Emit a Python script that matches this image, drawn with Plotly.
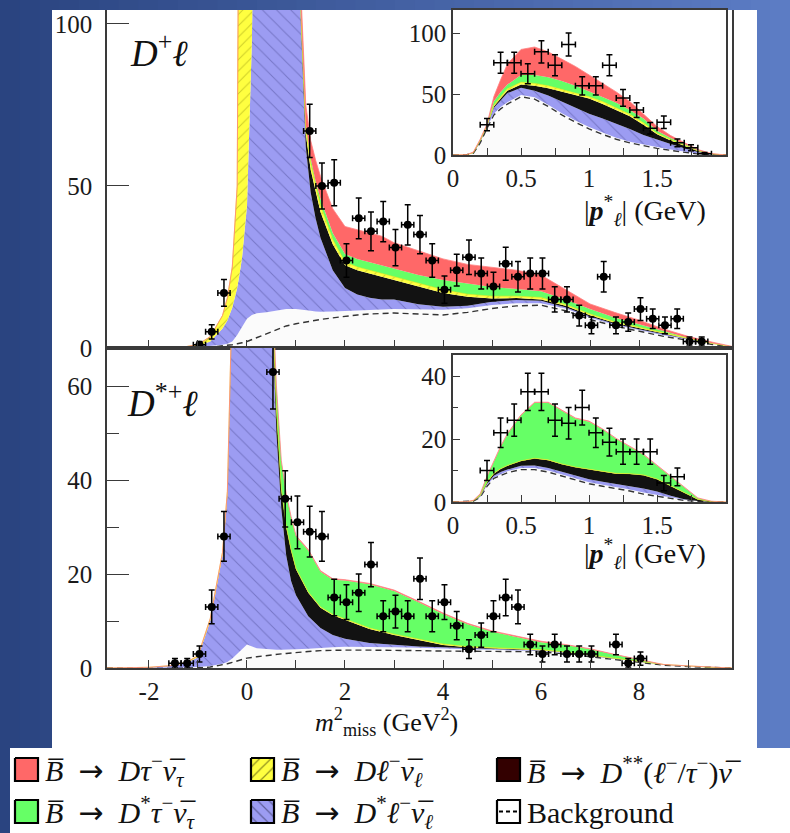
import plotly.graph_objects as go

W_PX, H_PX = 790, 833
def px(x): return x / W_PX
def py(y): return 1 - y / H_PX

# ---------------- main panel, D+ l  (cumulative boundaries) ----------------
top_x = [-2.857, -2.5, -2.0, -1.5, -1.25, -1.0, -0.75, -0.5, -0.4, -0.3, -0.2, -0.15, -0.1, 0.0, 0.1,
         0.2, 0.4, 0.6, 0.8, 1.0, 1.1, 1.2, 1.3, 1.4, 1.5, 1.75, 2.0, 2.25, 2.5, 2.75, 3.0, 3.5,
         4.0, 4.5, 5.0, 5.5, 6.0, 6.5, 7.0, 7.5, 8.0, 8.5, 9.0, 9.5, 9.898]
top_bkg_dash = [0, 0, 0, 0, 0, 0.1, 0.3, 0.6, 0.8, 1.0, 1.3, 1.4, 1.6, 2.0, 2.6,
                3.2, 4.4, 5.7, 6.8, 7.5, 7.8, 8.0, 8.3, 8.6, 8.8, 9.3, 9.8, 10.2, 10.5, 10.7, 10.8, 10.5,
                10.2, 11.0, 12.2, 13.0, 13.2, 11.5, 8.8, 6.8, 5.1, 3.6, 2.4, 1.1, 0.3]
top_bkg_top = [0, 0, 0, 0.05, 0.1, 0.3, 0.6, 1.0, 1.3, 2.0, 4.0, 5.2, 6.5, 9.0, 10.2,
               10.7, 11.0, 11.5, 12.0, 12.0, 11.9, 11.7, 11.5, 11.3, 11.2, 11.3, 11.5, 11.7, 11.8, 11.9, 12.0, 12.0,
               11.8, 12.3, 13.3, 13.8, 13.8, 12.2, 9.3, 7.2, 5.5, 3.9, 2.6, 1.2, 0.35]
top_dstl_top = [0, 0.1, 0.1, 0.15, 0.25, 0.6, 2.0, 6.0, 8.5, 12.5, 18.5, 23, 28, 44, 95,
                200, 200, 200, 200, 200, 100, 62, 48, 40, 34, 24, 18.5, 16.5, 15.5, 15, 15, 13.5,
                12.7, 13.0, 14.3, 14.8, 14.6, 12.6, 9.7, 7.5, 5.8, 4.2, 2.75, 1.3, 0.4]
top_dss_top = [0, 0.1, 0.1, 0.15, 0.25, 0.6, 2.0, 6.0, 8.5, 12.5, 18.5, 23, 28, 44, 95,
               200, 200, 200, 200, 201, 102, 66, 55, 48, 42, 32, 25.5, 24, 23, 22, 21, 19,
               17, 15.8, 15.3, 15.4, 15.0, 13.0, 10.1, 7.8, 6.1, 4.4, 2.85, 1.35, 0.4]
top_dl_top = [0, 0.1, 0.15, 0.25, 0.4, 1.1, 3.5, 10, 15.5, 25, 50, 200, 200, 200, 200,
              201, 201, 201, 201, 202, 104, 68, 57, 50, 44, 33.5, 26.5, 25, 24, 23, 22, 20,
              18, 16.6, 16.0, 16.0, 15.6, 13.4, 10.5, 8.1, 6.4, 4.6, 2.95, 1.4, 0.42]
top_dstau_top = [0, 0.1, 0.15, 0.25, 0.4, 1.1, 3.5, 10, 15.5, 25, 50, 200, 200, 200, 200,
                 202, 202, 202, 202, 203, 105, 69, 58.5, 51.5, 46, 35.5, 29, 27.5, 26.5, 25.5, 24.6, 22.5,
                 21, 20, 18.8, 18.2, 17.5, 15, 12, 9.4, 7.3, 5.1, 3.2, 1.5, 0.45]
top_dtau_top = [0, 0.1, 0.15, 0.25, 0.4, 1.1, 3.5, 10, 15.5, 25, 50, 200, 200, 200, 200,
                203, 203, 203, 203, 205, 110, 75, 64, 58, 53, 43, 37.5, 36.5, 35.5, 34.5, 32.5, 30,
                27.5, 25.8, 25, 24, 22.5, 18, 13.6, 11, 8.6, 5.9, 3.6, 1.8, 0.5]

top_data_x = [-0.97, -0.72, -0.47, 1.28, 1.53, 1.78, 2.03, 2.28, 2.53, 2.78, 3.03, 3.28, 3.53, 3.78,
              4.03, 4.28, 4.53, 4.78, 5.03, 5.28, 5.53, 5.78, 6.03, 6.28, 6.53, 6.78, 7.03, 7.28,
              7.53, 7.78, 8.03, 8.28, 8.53, 8.78, 9.03, 9.28]
top_data_y = [1, 5, 17, 67, 50, 51, 27, 40, 36, 39, 31, 38, 35, 27,
              18, 24, 28, 23, 19, 26, 22, 23, 23, 15, 15, 10, 7, 22,
              7, 8, 12, 9, 7, 9, 2, 2]
top_data_err = [1.0, 2.2, 4.1, 8.2, 7.1, 7.1, 5.2, 6.3, 6.0, 6.2, 5.6, 6.2, 5.9, 5.2,
                4.2, 4.9, 5.3, 4.8, 4.4, 5.1, 4.7, 4.8, 4.8, 3.9, 3.9, 3.2, 2.6, 4.7,
                2.6, 2.8, 3.5, 3.0, 2.6, 3.0, 1.4, 1.4]

# ---------------- main panel, D*+ l ----------------
bot_x = [-2.857, -2.5, -2.0, -1.5, -1.25, -1.0, -0.75, -0.5, -0.4, -0.3, -0.2, 0.0, 0.2, 0.4, 0.5,
         0.6, 0.7, 0.8, 0.9, 1.0, 1.25, 1.5, 1.75, 2.0, 2.5, 3.0, 3.5, 4.0, 4.5, 5.0, 5.5, 6.0,
         6.5, 7.0, 7.5, 8.0, 8.5, 9.0, 9.5, 9.898]
bot_bkg_dash = [0, 0, 0, 0, 0, 0.05, 0.2, 0.6, 0.9, 1.2, 1.5, 2.1, 2.4, 2.7, 2.8,
                2.9, 3.0, 3.1, 3.2, 3.4, 3.5, 3.7, 3.8, 3.8, 3.8, 3.8, 3.7, 3.6, 3.6, 3.6, 3.5, 3.4,
                3.0, 2.4, 1.8, 1.2, 0.6, 0.3, 0.1, 0]
bot_bkg_top = [0, 0, 0, 0.05, 0.1, 0.2, 0.4, 0.9, 1.3, 2.0, 3.0, 5.0, 4.2, 4.0, 3.9,
               3.9, 3.9, 3.9, 4.0, 4.0, 4.1, 4.3, 4.4, 4.5, 4.5, 4.4, 4.3, 4.1, 4.0, 3.9, 3.8, 3.6,
               3.2, 2.6, 1.95, 1.3, 0.7, 0.35, 0.12, 0]
bot_dstl_top = [0, 0.1, 0.15, 0.5, 1.0, 2.3, 10, 24, 37, 80, 150, 150, 150, 150, 80,
                50, 34, 24, 18.5, 15.5, 11, 8.5, 7, 6.2, 5.3, 4.9, 4.6, 4.4, 4.2, 4.1, 3.9, 3.7,
                3.3, 2.7, 2.0, 1.35, 0.72, 0.37, 0.13, 0]
bot_dss_top = [0, 0.1, 0.15, 0.5, 1.0, 2.3, 10, 24, 37, 80, 150, 150, 150, 150, 82,
               55, 38, 30, 25, 21, 16, 12.8, 11.2, 10.2, 8.3, 7.0, 5.9, 4.9, 4.4, 4.2, 4.0, 3.8,
               3.35, 2.75, 2.05, 1.4, 0.74, 0.38, 0.13, 0]
bot_dl_top = [0, 0.1, 0.15, 0.55, 1.15, 2.6, 10.5, 24.6, 37.6, 80.5, 150.5, 150.5, 150.5, 150.5, 82.2,
              55.2, 38.2, 30.2, 25.2, 21.2, 16.2, 13.0, 11.4, 10.4, 8.5, 7.2, 6.1, 5.1, 4.55, 4.35, 4.1, 3.9,
              3.4, 2.8, 2.1, 1.45, 0.76, 0.39, 0.13, 0]
bot_dstau_top = [0, 0.1, 0.15, 0.55, 1.15, 2.6, 10.5, 24.6, 37.6, 80.5, 150.5, 150.5, 150.5, 150.5, 85,
                 60, 44, 37, 32, 28, 25, 20.5, 18.8, 18.6, 17.8, 16.4, 14, 11.5, 9.3, 7.7, 6.6, 5.5,
                 4.9, 4.0, 2.8, 1.8, 0.7, 0.42, 0.14, 0]
bot_dtau_top = [0, 0.1, 0.15, 0.55, 1.15, 2.6, 10.5, 24.6, 37.6, 80.5, 150.5, 150.5, 150.5, 150.5, 85.2,
                60.2, 44.2, 37.2, 32.2, 28.2, 25.2, 20.7, 19.0, 18.8, 18.0, 16.6, 14.2, 11.7, 9.5, 7.9, 6.8, 5.7,
                5.0, 4.1, 2.9, 1.85, 0.75, 0.45, 0.15, 0]

bot_data_x = [-1.47, -1.22, -0.97, -0.72, -0.47, 0.53, 0.78, 1.03, 1.28, 1.53, 1.78, 2.03, 2.28, 2.53,
              2.78, 3.03, 3.28, 3.53, 3.78, 4.03, 4.28, 4.53, 4.78, 5.03, 5.28, 5.53, 5.78, 6.03,
              6.28, 6.53, 6.78, 7.03, 7.53, 7.78, 8.03]
bot_data_y = [1, 1, 3, 13, 28, 63, 36, 31, 29, 28, 15, 14, 16, 22,
              11, 12, 11, 19, 11, 14, 9, 4, 7, 11, 15, 13, 5, 3,
              5, 3, 3, 3, 5, 1, 2]
bot_data_err = [1.0, 1.0, 1.7, 3.6, 5.3, 7.9, 6.0, 5.6, 5.4, 5.3, 3.9, 3.7, 4.0, 4.7,
                3.3, 3.5, 3.3, 4.4, 3.3, 3.7, 3.0, 2.0, 2.6, 3.3, 3.9, 3.6, 2.2, 1.7,
                2.2, 1.7, 1.7, 1.7, 2.2, 1.0, 1.4]

# ---------------- inset, D+ l : |p*_l| ----------------
ins_x = [0, 0.1, 0.15, 0.2, 0.25, 0.3, 0.35, 0.4, 0.5, 0.6, 0.7, 0.8, 0.9, 1.0, 1.1, 1.2,
         1.3, 1.4, 1.5, 1.6, 1.7, 1.8, 1.9, 2.007]
ins1_bkg_dash = [0, 0.2, 1.5, 10, 22, 33, 38, 42, 48, 46, 40, 33, 27, 21.5, 17, 13, 10, 7.5, 5.5, 3.8, 2.3, 1.0, 0.3, 0]
ins1_bkg_top = [0, 0.2, 1.6, 10.5, 23, 34, 39.5, 43.5, 49.5, 47.5, 41.5, 34.5, 28.5, 23, 18.5, 14.3, 11, 8.5, 6.5, 4.5, 2.8, 1.3, 0.4, 0]
ins1_dstl_top = [0, 0.2, 1.7, 11, 23.5, 39, 45, 51, 55.5, 53, 49, 44, 39, 34, 30, 26, 21.5, 16.5, 12.5, 9, 5.5, 2.5, 0.7, 0]
ins1_dss_top = [0, 0.2, 1.8, 11.5, 24, 40, 46.5, 53, 58, 57, 55, 52, 49, 46.5, 42, 37, 32, 25, 17, 12, 7.5, 3.2, 0.8, 0]
ins1_dl_top = [0, 0.2, 1.9, 12, 24.3, 41, 48, 54.5, 60, 59, 57, 54, 51, 48, 44, 39, 33.5, 26.5, 18, 12.8, 8, 3.5, 0.9, 0]
ins1_dstau_top = [0, 0.2, 2, 12.5, 24.7, 44, 52, 58, 66, 66, 64, 61, 57, 52.5, 48, 43, 37, 30, 20, 14, 9, 4, 1.0, 0]
ins1_dtau_top = [0, 0.3, 2.5, 13, 25.5, 48, 62, 75, 87, 89, 85, 79, 73, 66, 59, 52, 44, 34, 23.5, 16, 10, 4.5, 1.2, 0]
ins1_data_x = [0.25, 0.35, 0.45, 0.55, 0.65, 0.75, 0.85, 0.95, 1.05, 1.15, 1.25, 1.35, 1.45, 1.55, 1.65, 1.75, 1.85]
ins1_data_y = [25, 76, 76, 67, 85, 74, 91, 57, 57, 74, 47, 37, 22, 27, 10, 6, 1]
ins1_data_err = [5.0, 8.7, 8.7, 8.2, 9.2, 8.6, 9.5, 7.5, 7.5, 8.6, 6.9, 6.1, 4.7, 5.2, 3.2, 2.4, 1.0]

# ---------------- inset, D*+ l : |p*_l| ----------------
ins2_bkg_dash = [0, 0.05, 0.3, 1.5, 5, 7.5, 8.5, 9.3, 10.3, 10.3, 9.5, 8.3, 7, 5.8, 5, 4.3, 3.5, 2.5, 1.8, 1.0, 0.5, 0.2, 0, 0]
ins2_bkg_top = [0, 0.05, 0.3, 1.6, 5.3, 7.8, 8.9, 9.8, 10.8, 10.8, 10, 8.8, 7.5, 6.3, 5.5, 4.8, 4, 3, 2.2, 1.3, 0.7, 0.3, 0, 0]
ins2_dstl_top = [0, 0.05, 0.35, 1.8, 5.8, 8.3, 9.5, 10.3, 11.5, 11.6, 10.8, 9.6, 8.3, 7.2, 6.4, 5.8, 5, 4.3, 3.3, 2.0, 0.9, 0.3, 0, 0]
ins2_dss_top = [0, 0.05, 0.4, 2, 6.2, 9, 10.5, 11.5, 13, 13.8, 13.3, 12, 11, 10.3, 9.6, 9, 8.9, 8.5, 7.2, 5, 2.8, 0.8, 0.1, 0]
ins2_dl_top = [0, 0.05, 0.4, 2.05, 6.3, 9.1, 10.6, 11.6, 13.1, 13.9, 13.4, 12.1, 11.1, 10.4, 9.7, 9.1, 9.0, 8.6, 7.3, 5.1, 2.9, 0.85, 0.1, 0]
ins2_dstau_top = [0, 0.1, 0.5, 2.5, 8, 13, 17.5, 21.5, 27.5, 31.5, 31.5, 29, 26.5, 25.5, 23, 20, 17.5, 15, 11.5, 8, 4.5, 1.2, 0.2, 0]
ins2_dtau_top = [0, 0.1, 0.55, 2.6, 8.2, 13.2, 17.7, 21.7, 27.7, 31.7, 31.7, 29.2, 26.7, 25.7, 23.2, 20.2, 17.7, 15.2, 11.7, 8.2, 4.7, 1.3, 0.25, 0]
ins2_data_x = [0.25, 0.35, 0.45, 0.55, 0.65, 0.75, 0.85, 0.95, 1.05, 1.15, 1.25, 1.35, 1.45, 1.55, 1.65]
ins2_data_y = [10, 22, 26, 35, 35, 26, 25, 30, 22, 19, 16, 16, 16, 6, 8]
ins2_data_err = [3.2, 4.7, 5.1, 5.9, 5.9, 5.1, 5.0, 5.5, 4.7, 4.4, 4.0, 4.0, 4.0, 2.4, 2.8]

main_xtick_vals = [-2, -1, 0, 1, 2, 3, 4, 5, 6, 7, 8, 9]
main_xtick_text = ['-2', '', '0', '', '2', '', '4', '', '6', '', '8', '']
ins_xtick_vals = [0, 0.25, 0.5, 0.75, 1.0, 1.25, 1.5, 1.75]
ins_xtick_text = ['0', '', '0.5', '', '1', '', '1.5', '']

ARROW = "\u2002<span style='font-family:DejaVu Sans'>\u2192</span>\u2002"
legend_labels = [
    "<i>B\u0305</i>" + ARROW + "<i>D\u03c4</i><sup>\u2212</sup><i>\u03bd\u0305</i><sub><i>\u03c4</i></sub>",
    "<i>B\u0305</i>" + ARROW + "<i>D\u2113</i><sup>\u2212</sup><i>\u03bd\u0305</i><sub><i>\u2113</i></sub>",
    "<i>B\u0305</i>" + ARROW + "<i>D</i><sup>**</sup>(<i>\u2113</i><sup>\u2212</sup>/<i>\u03c4</i><sup>\u2212</sup>)<i>\u03bd\u0305</i>",
    "<i>B\u0305</i>" + ARROW + "<i>D</i><sup>*</sup><i>\u03c4</i><sup>\u2212</sup><i>\u03bd\u0305</i><sub><i>\u03c4</i></sub>",
    "<i>B\u0305</i>" + ARROW + "<i>D</i><sup>*</sup><i>\u2113</i><sup>\u2212</sup><i>\u03bd\u0305</i><sub><i>\u2113</i></sub>",
    "Background",
]

# ---------------- styles ----------------
RED = '#ff6868'
GREEN = '#66ff66'
BLACK = '#121212'
BLUE = '#9c9cf2'
BLUE_HATCH = '#50509a'
YELLOW = '#ffff40'
YELLOW_HATCH = '#9a9a10'
BKG = '#fbfbfb'
DSS_LEG = '#330000'
FONT = 'Liberation Serif'
AX = '#3a3a3a'

fig = go.Figure()

def add_stack(x, d, w, b1, b2, b3, b4, b5, xa, ya):
    common = dict(x=x, xaxis=xa, yaxis=ya, mode='lines', hoverinfo='skip', showlegend=False)
    fig.add_trace(go.Scatter(y=d, line=dict(color='#333333', width=1.4, dash='6px,4px'),
                             fill='tozeroy', fillcolor=BKG, **common))
    fig.add_trace(go.Scatter(y=w, line=dict(width=0, color=BKG), fill='tonexty', fillcolor=BKG, **common))
    fig.add_trace(go.Scatter(y=b1, line=dict(width=0, color=BLUE), fill='tonexty', fillcolor=BLUE,
                             fillpattern=dict(shape='\\', fgcolor=BLUE_HATCH, bgcolor=BLUE, size=10, solidity=0.1),
                             **common))
    fig.add_trace(go.Scatter(y=b2, line=dict(width=0, color=BLACK), fill='tonexty', fillcolor=BLACK, **common))
    fig.add_trace(go.Scatter(y=b3, line=dict(width=0.6, color='#e8e800'), fill='tonexty', fillcolor=YELLOW,
                             fillpattern=dict(shape='/', fgcolor=YELLOW_HATCH, bgcolor=YELLOW, size=8, solidity=0.12),
                             **common))
    fig.add_trace(go.Scatter(y=b4, line=dict(width=0, color=GREEN), fill='tonexty', fillcolor=GREEN, **common))
    fig.add_trace(go.Scatter(y=b5, line=dict(width=0.8, color='#ff8080'), fill='tonexty', fillcolor=RED, **common))

add_stack(top_x, top_bkg_dash, top_bkg_top, top_dstl_top, top_dss_top, top_dl_top, top_dstau_top, top_dtau_top, 'x', 'y')
add_stack(bot_x, bot_bkg_dash, bot_bkg_top, bot_dstl_top, bot_dss_top, bot_dl_top, bot_dstau_top, bot_dtau_top, 'x2', 'y2')
add_stack(ins_x, ins1_bkg_dash, ins1_bkg_top, ins1_dstl_top, ins1_dss_top, ins1_dl_top, ins1_dstau_top, ins1_dtau_top, 'x3', 'y3')
add_stack(ins_x, ins2_bkg_dash, ins2_bkg_top, ins2_dstl_top, ins2_dss_top, ins2_dl_top, ins2_dstau_top, ins2_dtau_top, 'x4', 'y4')

def add_points(x, y, err, xa, ya, xerr, filled):
    fig.add_trace(go.Scatter(
        x=x, y=y, xaxis=xa, yaxis=ya, mode='markers', hoverinfo='skip', showlegend=False,
        marker=dict(color='black' if filled else 'rgba(0,0,0,0)', size=8 if filled else 1),
        error_y=dict(type='data', array=err, color='black', thickness=1.5, width=3),
        error_x=dict(type='constant', value=xerr, color='black', thickness=1.5, width=3),
    ))

add_points(top_data_x, top_data_y, top_data_err, 'x', 'y', 0.125, True)
add_points(bot_data_x, bot_data_y, bot_data_err, 'x2', 'y2', 0.125, True)
add_points(ins1_data_x, ins1_data_y, ins1_data_err, 'x3', 'y3', 0.05, False)
add_points(ins2_data_x, ins2_data_y, ins2_data_err, 'x4', 'y4', 0.05, False)

# ---------------- legend swatches on an overlay pixel axis ----------------
sw = 23
leg_cols = [15, 251, 497]
leg_rows = [758, 800]
sw_styles = [
    dict(fillcolor=RED),
    dict(fillcolor=YELLOW, fillpattern=dict(shape='/', fgcolor='#222200', bgcolor=YELLOW, size=8, solidity=0.15)),
    dict(fillcolor=DSS_LEG),
    dict(fillcolor=GREEN),
    dict(fillcolor=BLUE, fillpattern=dict(shape='\\', fgcolor='#222244', bgcolor=BLUE, size=8, solidity=0.15)),
    dict(fillcolor='white'),
]
for i, st in enumerate(sw_styles):
    r, c = divmod(i, 3)
    x0, y0 = leg_cols[c], leg_rows[r]
    fig.add_trace(go.Scatter(x=[x0, x0 + sw, x0 + sw, x0, x0], y=[y0, y0, y0 + sw, y0 + sw, y0],
                             xaxis='x5', yaxis='y5', mode='lines', fill='toself',
                             line=dict(color='black', width=2.2), hoverinfo='skip', showlegend=False, **st))
    if i == 5:
        fig.add_trace(go.Scatter(x=[x0 + 2, x0 + sw - 2], y=[y0 + sw / 2, y0 + sw / 2], xaxis='x5', yaxis='y5',
                                 mode='lines', line=dict(color='black', width=2, dash='4px,3px'),
                                 hoverinfo='skip', showlegend=False))

# ---------------- background shapes ----------------
shapes = []
n = 40
c0 = (42, 68, 128)
c1 = (92, 124, 196)
for i in range(n):
    t = i / (n - 1)
    col = 'rgb(%d,%d,%d)' % tuple(int(round(a + (b - a) * t)) for a, b in zip(c0, c1))
    shapes.append(dict(type='rect', xref='paper', yref='paper', x0=i / n, x1=(i + 1) / n + 0.002,
                       y0=0, y1=1, fillcolor=col, line=dict(width=0), layer='below'))
shapes.append(dict(type='rect', xref='paper', yref='paper', x0=px(52), x1=px(757), y0=py(748), y1=py(10),
                   fillcolor='white', line=dict(width=0), layer='below'))
shapes.append(dict(type='rect', xref='paper', yref='paper', x0=px(10), x1=1.0, y0=0, y1=py(748),
                   fillcolor='white', line=dict(width=0), layer='below'))

tickfont = dict(family=FONT, size=25, color='#1a1a1a')

def ax_common():
    return dict(showgrid=False, zeroline=False, showline=True, linecolor=AX, linewidth=1.5,
                ticks='inside', tickcolor=AX, tickwidth=1.3, tickfont=tickfont, mirror=True,
                automargin=False)

layout = dict(
    width=W_PX, height=H_PX, margin=dict(l=0, r=0, t=0, b=0, pad=0, autoexpand=False),
    paper_bgcolor='rgb(70,98,165)', plot_bgcolor='rgba(0,0,0,0)', showlegend=False,
    shapes=shapes,
    xaxis=dict(domain=[px(107), px(732)], range=[-2.857, 9.898], anchor='y',
               tickmode='array', tickvals=main_xtick_vals, ticklen=8, showticklabels=False,
               **{**ax_common(), 'mirror': False}),
    yaxis=dict(domain=[py(348), py(10)], range=[0, 104.3], anchor='x',
               tickmode='array', tickvals=[0, 50, 100], ticklen=22, ticklabelstandoff=8, **ax_common()),
    xaxis2=dict(domain=[px(107), px(732)], range=[-2.857, 9.898], anchor='y2',
                tickmode='array', tickvals=main_xtick_vals, ticktext=main_xtick_text, ticklen=8,
                ticklabelstandoff=0, **ax_common()),
    yaxis2=dict(domain=[py(668), py(348)], range=[0, 68.1], anchor='x2',
                tickmode='array', tickvals=[0, 20, 40, 60], ticklen=22, ticklabelstandoff=8,
                minor=dict(tickmode='array', tickvals=[10, 30, 50], ticklen=12, ticks='inside', tickcolor=AX),
                **ax_common()),
    xaxis3=dict(domain=[px(453), px(726)], range=[0, 2.007], anchor='y3',
                tickmode='array', tickvals=ins_xtick_vals, ticktext=ins_xtick_text, ticklen=7,
                ticklabelstandoff=0, **ax_common()),
    yaxis3=dict(domain=[py(155), py(10)], range=[0, 119.5], anchor='x3',
                tickmode='array', tickvals=[0, 50, 100], ticklen=7, ticklabelstandoff=0, **ax_common()),
    xaxis4=dict(domain=[px(453), px(726)], range=[0, 2.007], anchor='y4',
                tickmode='array', tickvals=ins_xtick_vals, ticktext=ins_xtick_text, ticklen=7,
                ticklabelstandoff=0, **ax_common()),
    yaxis4=dict(domain=[py(502), py(355)], range=[0, 46.7], anchor='x4',
                tickmode='array', tickvals=[0, 20, 40], ticklen=7, ticklabelstandoff=0,
                minor=dict(tickmode='array', tickvals=[10, 30], ticklen=5, ticks='inside', tickcolor=AX),
                **ax_common()),
    xaxis5=dict(domain=[0, 1], range=[0, W_PX], anchor='y5', visible=False, fixedrange=True, automargin=False),
    yaxis5=dict(domain=[0, 1], range=[H_PX, 0], anchor='x5', visible=False, fixedrange=True, automargin=False),
)
fig.update_layout(**layout)

ann = []
ann.append(dict(text="<i>D</i><sup>+</sup><i>\u2113</i>", x=px(128), y=py(50), xref='paper', yref='paper',
                xanchor='left', yanchor='middle', showarrow=False, font=dict(family=FONT, size=37, color='#111')))
ann.append(dict(text="<i>D</i><sup>*+</sup><i>\u2113</i>", x=px(125), y=py(400), xref='paper', yref='paper',
                xanchor='left', yanchor='middle', showarrow=False, font=dict(family=FONT, size=37, color='#111')))
ann.append(dict(text="<i>m</i><sup>2</sup><sub>miss</sub> (GeV<sup>2</sup>)", x=px(386), y=py(722),
                xref='paper', yref='paper', xanchor='center', yanchor='middle', showarrow=False,
                font=dict(family=FONT, size=26, color='#111')))
for yy in (210, 553):
    ann.append(dict(text="|<b><i>p</i></b><sup>*</sup><sub><i>\u2113</i></sub>| (GeV)", x=px(708), y=py(yy),
                    xref='paper', yref='paper', xanchor='right', yanchor='middle', showarrow=False,
                    font=dict(family=FONT, size=28, color='#111')))
for i, lab in enumerate(legend_labels):
    r, c = divmod(i, 3)
    ann.append(dict(text=lab, x=px(leg_cols[c] + sw + 5), y=py(leg_rows[r] + sw / 2 + 1),
                    xref='paper', yref='paper', xanchor='left', yanchor='middle', showarrow=False,
                    font=dict(family=FONT, size=30, color='#111')))
fig.update_layout(annotations=ann)

fig.write_html("out.html")
